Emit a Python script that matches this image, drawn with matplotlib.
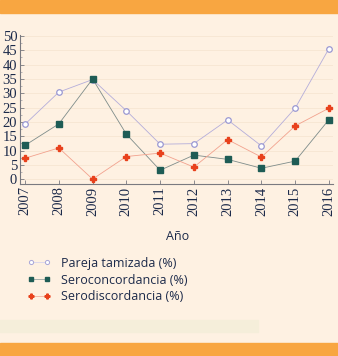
import matplotlib
matplotlib.use("Agg")
import matplotlib.pyplot as plt
from matplotlib.patches import Rectangle
from matplotlib.ticker import MultipleLocator
from matplotlib.lines import Line2D

years = [2007, 2008, 2009, 2010, 2011, 2012, 2013, 2014, 2015, 2016]
pareja = [19.2, 30.4, 34.8, 23.9, 12.2, 12.4, 20.7, 11.6, 24.8, 45.6]
seroconc = [11.8, 19.3, 35.0, 15.7, 3.1, 8.4, 6.9, 3.8, 6.3, 20.8]
serodisc = [7.3, 10.9, 0.0, 7.9, 9.1, 4.2, 13.8, 7.7, 18.6, 24.8]
labels = ["Pareja tamizada (%)", "Seroconcordancia (%)", "Serodiscordancia (%)"]
yticks = [0, 5, 10, 15, 20, 25, 30, 35, 40, 45, 50]

BG = "#FEF1E2"
ORANGE = "#F8A641"

fig = plt.figure(figsize=(3.38, 3.56), dpi=100, facecolor=BG)
# decorative bands
fig.patches.append(Rectangle((0, 1 - 13 / 356), 1, 13 / 356, transform=fig.transFigure,
                             color=ORANGE, zorder=0))
fig.patches.append(Rectangle((0, 0), 1, 13 / 356, transform=fig.transFigure,
                             color=ORANGE, zorder=0))
fig.patches.append(Rectangle((0, 1 - 332 / 356), 258 / 338, 12 / 356, transform=fig.transFigure,
                             color="#F5EEDA", zorder=0))

ax = fig.add_axes([20 / 338, 1 - 183.7 / 356, (333 - 20) / 338, (183.7 - 34.6) / 356])
ax.set_facecolor(BG)

h1, = ax.plot(years, pareja, color="#B4ADDA", lw=0.6, marker="o", ms=4,
              mfc="white", mec="#9A98D2", mew=0.9, zorder=3)
h2, = ax.plot(years, seroconc, color="#7E8C8A", lw=0.6, marker="s", ms=4,
              mfc="#1E5C55", mec="#1E5C55", zorder=3)
h3, = ax.plot(years, serodisc, color="#F2A28E", lw=0.6, marker="P", ms=4.5,
              mfc="#E8411C", mec="#E8411C", zorder=3)

ax.set_xlim(2006.85, 2016.12)
ax.set_ylim(-1.6, 50.5)
ax.set_yticks(yticks)
ax.yaxis.set_minor_locator(MultipleLocator(2.5))
ax.set_xticks(years)
ax.grid(axis="y", color="#F6E6D2", lw=0.6, zorder=0)
ax.set_axisbelow(True)

for s in ["top", "right"]:
    ax.spines[s].set_visible(False)
for s in ["left", "bottom"]:
    ax.spines[s].set_color("#7A7A80")
    ax.spines[s].set_linewidth(0.8)

tickfont = dict(family="Liberation Serif", size=10.5)
ax.tick_params(axis="both", direction="in", color="#7A7A80", length=3, width=0.6, pad=2,
               labelcolor="#1C2A4A")
ax.tick_params(axis="y", which="minor", direction="in", length=1.5, width=0.5, color="#9A9AA0")
ax.set_yticklabels([str(v) for v in yticks], **tickfont)
ax.set_xticklabels([str(v) for v in years], rotation=90, **tickfont)

fig.text(178 / 338, 1 - 237 / 356, "Año", ha="center", va="center",
         family="Open Sans", size=9, color="#1C2A4A")

lh1 = Line2D([], [], color="#D8D4EC", lw=0.6, marker="o", ms=3, mfc="white", mec="#A8A6D8", mew=0.7)
lh2 = Line2D([], [], color="#9AA8A6", lw=0.6, marker="s", ms=3, mfc="#1E5C55", mec="#1E5C55")
lh3 = Line2D([], [], color="#F2B2A0", lw=0.6, marker="P", ms=3.5, mfc="#E8411C", mec="#E8411C")

leg = fig.legend([lh1, lh2, lh3], labels, loc="upper left",
                 bbox_to_anchor=(27.5 / 338, 1 - 256.5 / 356), frameon=False,
                 numpoints=2, handlelength=1.85, handletextpad=0.85, labelspacing=0.32,
                 prop=dict(family="Open Sans", size=9), borderaxespad=0, borderpad=0)
for t in leg.get_texts():
    t.set_color("#1C2A4A")

fig.savefig("out.png", dpi=100, facecolor=BG)
